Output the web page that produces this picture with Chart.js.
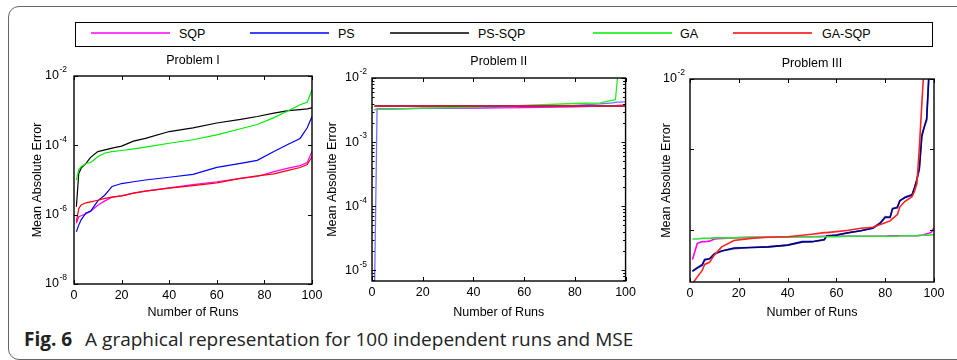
<!DOCTYPE html>
<html>
<head>
<meta charset="utf-8">
<script src="https://cdn.jsdelivr.net/npm/chart.js@4.4.1/dist/chart.umd.min.js"></script>
<style>
  html, body { margin: 0; padding: 0; background: #fff; }
  body { width: 957px; height: 360px; position: relative; overflow: hidden; font-family: "Liberation Sans", Arial, sans-serif; }
  .frame { position: absolute; left: 8px; top: 6px; width: 1000px; height: 352px; border: 1.3px solid #666; border-radius: 11px; }
  .legend { position: absolute; left: 75px; top: 22px; width: 856px; height: 23px; border: 1.5px solid #000; }
  .legend svg { position: absolute; left: 0; top: 0; }
  .legend .tx { position: absolute; top: 3.5px; font-size: 12.5px; color: #000; }
  .panel { position: absolute; top: 50px; height: 273px; }
  .caption { position: absolute; left: 24px; top: 329px; line-height: 20px; font-family: "Open Sans", "Noto Sans", sans-serif; font-size: 19px; color: #222; white-space: nowrap; }
  .caption b { font-weight: 700; margin-right: 8px; }
</style>
</head>
<body>
<div class="frame"></div>
<div class="legend" id="legend"><svg id="legendSvg" width="856" height="23"></svg></div>
<div class="panel" style="left:0px;width:330px"><canvas id="p1"></canvas></div>
<div class="panel" style="left:300px;width:340px"><canvas id="p2"></canvas></div>
<div class="panel" style="left:630px;width:327px"><canvas id="p3"></canvas></div>
<div class="caption"><b>Fig. 6</b> A graphical representation for 100 independent runs and MSE</div>
<script>
// series names and colours (MATLAB m, b, k, g, r)
const seriesNames = ['SQP', 'PS', 'PS-SQP', 'GA', 'GA-SQP'];
const seriesColors = ['#ff00ff', '#0000ff', '#000000', '#00ee00', '#ff0000'];

// Problem I
const p1Runs = [1, 2, 3, 5, 7, 10, 13, 16, 20, 25, 30, 40, 50, 60, 70, 77, 84, 90, 95, 98, 100];
const p1SQP = [5.6e-7, 8.7e-7, 9.3e-7, 1.05e-6, 1.26e-6, 1.86e-6, 2.5e-6, 3.2e-6, 3.5e-6, 4.2e-6, 4.8e-6, 5.9e-6, 7.4e-6, 8.9e-6, 1.12e-5, 1.26e-5, 1.74e-5, 2.2e-5, 2.6e-5, 3.2e-5, 6.6e-5];
const p1PS = [3.2e-7, 5.0e-7, 7.1e-7, 1.12e-6, 1.26e-6, 2.5e-6, 3.7e-6, 6.5e-6, 7.9e-6, 8.9e-6, 1.0e-5, 1.2e-5, 1.45e-5, 2.3e-5, 3.0e-5, 3.7e-5, 6.6e-5, 1.07e-4, 1.58e-4, 3.2e-4, 6.8e-4];
const p1PSSQP = [1.7e-6, 1.55e-5, 2.2e-5, 3.0e-5, 4.5e-5, 6.6e-5, 7.4e-5, 8.3e-5, 9.5e-5, 1.32e-4, 1.58e-4, 2.5e-4, 3.2e-4, 4.4e-4, 5.6e-4, 6.8e-4, 8.5e-4, 1.0e-3, 1.07e-3, 1.12e-3, 1.2e-3];
const p1GA = [1.0e-5, 2.0e-5, 2.4e-5, 3.0e-5, 3.2e-5, 4.7e-5, 6.0e-5, 6.6e-5, 7.1e-5, 7.9e-5, 8.9e-5, 1.15e-4, 1.45e-4, 2.0e-4, 3.0e-4, 4.0e-4, 6.3e-4, 1.0e-3, 1.48e-3, 1.74e-3, 4.0e-3];
const p1GASQP = [6.3e-7, 1.5e-6, 1.9e-6, 2.2e-6, 2.35e-6, 2.6e-6, 2.95e-6, 3.2e-6, 3.5e-6, 4.2e-6, 4.8e-6, 5.8e-6, 6.9e-6, 8.3e-6, 1.12e-5, 1.32e-5, 1.5e-5, 1.9e-5, 2.3e-5, 2.8e-5, 4.7e-5];
const p1YTicks = [1e-8, 1e-6, 1e-4, 1e-2];
const p1YLabels = ['10^-8', '10^-6', '10^-4', '10^-2'];

// Problem II
const p2Runs = [1, 2, 20, 40, 60, 80, 90, 95, 96, 97, 100];
const p2SQP = [3.2e-3, 3.3e-3, 3.35e-3, 3.4e-3, 3.45e-3, 3.55e-3, 3.65e-3, 3.7e-3, 3.7e-3, 3.75e-3, 3.8e-3];
const p2PS = [5e-6, 3.25e-3, 3.35e-3, 3.4e-3, 3.6e-3, 3.75e-3, 3.95e-3, 4.1e-3, 4.15e-3, 4.2e-3, 4.25e-3];
const p2PSSQP = [3.6e-3, 3.6e-3, 3.6e-3, 3.6e-3, 3.6e-3, 3.6e-3, 3.6e-3, 3.6e-3, 3.6e-3, 3.6e-3, 3.6e-3];
const p2GA = [3.2e-3, 3.25e-3, 3.4e-3, 3.5e-3, 3.75e-3, 4.0e-3, 4.1e-3, 4.5e-3, 4.6e-3, 1.2e-2, 1.2e-2];
const p2GASQP = [3.65e-3, 3.65e-3, 3.65e-3, 3.65e-3, 3.65e-3, 3.65e-3, 3.65e-3, 3.65e-3, 3.65e-3, 3.65e-3, 3.65e-3];
const p2YTicks = [1e-5, 1e-4, 1e-3, 1e-2];
const p2YLabels = ['10^-5', '10^-4', '10^-3', '10^-2'];

// Problem III
const p3Runs = [1, 3, 5, 6, 8, 10, 13, 18, 25, 32, 40, 46, 50, 55, 56, 60, 65, 70, 75, 78, 80, 82, 83, 85, 86, 88, 91, 92, 93, 94, 95, 96, 97, 98, 99, 100];
const p3SQP = [1.29e-3, 1.55e-3, 1.58e-3, 1.58e-3, 1.59e-3, 1.63e-3, 1.64e-3, 1.65e-3, 1.66e-3, 1.66e-3, 1.67e-3, 1.67e-3, 1.67e-3, 1.68e-3, 1.68e-3, 1.68e-3, 1.68e-3, 1.68e-3, 1.68e-3, 1.68e-3, 1.68e-3, 1.69e-3, 1.69e-3, 1.69e-3, 1.69e-3, 1.69e-3, 1.69e-3, 1.69e-3, 1.69e-3, 1.70e-3, 1.70e-3, 1.71e-3, 1.73e-3, 1.74e-3, 1.76e-3, 1.85e-3];
const p3PS = [1.13e-3, 1.17e-3, 1.21e-3, 1.29e-3, 1.30e-3, 1.38e-3, 1.42e-3, 1.47e-3, 1.48e-3, 1.49e-3, 1.52e-3, 1.58e-3, 1.58e-3, 1.62e-3, 1.68e-3, 1.70e-3, 1.75e-3, 1.79e-3, 1.84e-3, 1.95e-3, 2.08e-3, 2.08e-3, 2.30e-3, 2.32e-3, 2.52e-3, 2.60e-3, 2.68e-3, 2.90e-3, 3.2e-3, 3.6e-3, 5.2e-3, 5.8e-3, 6.3e-3, 1.1e-2, 1.5e-2, 2.0e-2];
const p3PSSQP = [1.13e-3, 1.18e-3, 1.22e-3, 1.28e-3, 1.30e-3, 1.37e-3, 1.42e-3, 1.46e-3, 1.48e-3, 1.49e-3, 1.52e-3, 1.57e-3, 1.58e-3, 1.61e-3, 1.69e-3, 1.71e-3, 1.75e-3, 1.79e-3, 1.85e-3, 1.96e-3, 2.10e-3, 2.09e-3, 2.28e-3, 2.35e-3, 2.50e-3, 2.62e-3, 2.70e-3, 2.92e-3, 3.2e-3, 3.7e-3, 5.3e-3, 5.8e-3, 6.4e-3, 1.1e-2, 1.5e-2, 2.0e-2];
const p3GA = [1.63e-3, 1.63e-3, 1.64e-3, 1.64e-3, 1.64e-3, 1.65e-3, 1.65e-3, 1.65e-3, 1.66e-3, 1.66e-3, 1.66e-3, 1.67e-3, 1.67e-3, 1.67e-3, 1.67e-3, 1.67e-3, 1.68e-3, 1.68e-3, 1.68e-3, 1.68e-3, 1.68e-3, 1.68e-3, 1.68e-3, 1.68e-3, 1.69e-3, 1.69e-3, 1.69e-3, 1.69e-3, 1.69e-3, 1.69e-3, 1.70e-3, 1.70e-3, 1.70e-3, 1.70e-3, 1.71e-3, 1.71e-3];
const p3GASQP = [0.98e-3, 1.06e-3, 1.14e-3, 1.22e-3, 1.25e-3, 1.36e-3, 1.49e-3, 1.60e-3, 1.64e-3, 1.66e-3, 1.67e-3, 1.70e-3, 1.72e-3, 1.75e-3, 1.75e-3, 1.77e-3, 1.80e-3, 1.84e-3, 1.86e-3, 1.92e-3, 1.96e-3, 2.0e-3, 2.05e-3, 2.15e-3, 2.34e-3, 2.49e-3, 2.63e-3, 2.8e-3, 3.06e-3, 4.6e-3, 7.5e-3, 1.2e-2, 2e-2, 2e-2, 2e-2, 2e-2];
const p3YTicks = [1.8e-3, 4.5e-3, 1e-2];
const p3YLabels = ['', '', '10^-2'];

const xTicks = [0, 20, 40, 60, 80, 100];

const FONT = '"Liberation Sans", Arial, sans-serif';

// legend (HTML/SVG, positions)
const legendLines = [15, 174, 314, 517, 657];
const legendTexts = [103, 262, 402, 604, 746];
const legend = document.getElementById('legend');
const svg = document.getElementById('legendSvg');
seriesNames.forEach((name, i) => {
    const ln = document.createElementNS('http://www.w3.org/2000/svg', 'line');
    ln.setAttribute('x1', legendLines[i]);
    ln.setAttribute('x2', legendLines[i] + 79);
    ln.setAttribute('y1', 10);
    ln.setAttribute('y2', 10);
    ln.setAttribute('stroke', seriesColors[i]);
    ln.setAttribute('stroke-width', 1.5);
    svg.appendChild(ln);
    const tx = document.createElement('div');
    tx.className = 'tx';
    tx.style.left = legendTexts[i] + 'px';
    tx.textContent = name;
    legend.appendChild(tx);
});

// MATLAB-like box, inward ticks, 10^n labels and panel title
const matlabAxes = {
    id: 'matlabAxes',
    afterDraw(chart, args, opts) {
        const { ctx, chartArea: a, scales: { x, y } } = chart;
        ctx.save();
        ctx.strokeStyle = '#000';
        ctx.lineWidth = 1.4;
        ctx.strokeRect(a.left, a.top, a.right - a.left, a.bottom - a.top);

        ctx.lineWidth = 1;
        ctx.beginPath();
        x.ticks.forEach(t => {
            const px = Math.round(x.getPixelForValue(t.value)) + 0.5;
            ctx.moveTo(px, a.bottom); ctx.lineTo(px, a.bottom - 4);
            ctx.moveTo(px, a.top); ctx.lineTo(px, a.top + 4);
        });
        y.ticks.forEach(t => {
            const py = Math.round(y.getPixelForValue(t.value)) + 0.5;
            ctx.moveTo(a.left, py); ctx.lineTo(a.left + 4, py);
            ctx.moveTo(a.right, py); ctx.lineTo(a.right - 4, py);
        });
        if (opts.minor) {
            for (let e = -6; e <= -3; e++) {
                for (let m = 2; m <= 9; m++) {
                    const v = m * Math.pow(10, e);
                    if (v < y.min || v > y.max) continue;
                    const py = Math.round(y.getPixelForValue(v)) + 0.5;
                    ctx.moveTo(a.left, py); ctx.lineTo(a.left + 2.5, py);
                    ctx.moveTo(a.right, py); ctx.lineTo(a.right - 2.5, py);
                }
            }
        }
        ctx.stroke();

        ctx.fillStyle = '#000';
        ctx.textBaseline = 'middle';
        ctx.textAlign = 'right';
        y.ticks.forEach((t, i) => {
            const label = opts.labels[i];
            if (!label) return;
            const [base, exp] = label.split('^');
            const py = y.getPixelForValue(t.value);
            const right = a.left - opts.labelGap;
            ctx.font = '8.5px ' + FONT;
            const ew = ctx.measureText(exp).width;
            ctx.fillText(exp, right, py - 6);
            ctx.font = '12.5px ' + FONT;
            ctx.fillText(base, right - ew - 0.5, py);
        });

        ctx.textAlign = 'center';
        ctx.font = '12.5px ' + FONT;
        ctx.fillText(opts.title, (a.left + a.right) / 2, a.top - opts.titleGap);
        ctx.restore();
    }
};

function makePanel(id, cfg) {
    const series = [cfg.sqp, cfg.ps, cfg.pssqp, cfg.ga, cfg.gasqp];
    const datasets = series.map((vals, i) => ({
        label: seriesNames[i],
        data: cfg.runs.map((r, k) => ({ x: r, y: vals[k] })),
        borderColor: (cfg.colors || seriesColors)[i],
        borderWidth: cfg.widths ? cfg.widths[i] : cfg.lineWidth,
        pointRadius: 0,
        tension: 0,
        fill: false,
        order: 5 - i
    }));
    new Chart(document.getElementById(id), {
        type: 'line',
        data: { datasets },
        options: {
            responsive: true,
            maintainAspectRatio: false,
            animation: false,
            layout: { padding: { top: cfg.padTop, right: cfg.padRight, bottom: 0, left: 0 } },
            plugins: {
                legend: { display: false },
                tooltip: { enabled: false },
                matlabAxes: { labels: cfg.yLabels, title: cfg.title, titleGap: cfg.titleGap, labelGap: cfg.labelGap, minor: cfg.minor }
            },
            scales: {
                x: {
                    type: 'linear',
                    min: 0, max: 100,
                    afterBuildTicks: s => { s.ticks = xTicks.map(v => ({ value: v })); },
                    afterFit: s => { s.height = cfg.xHeight; },
                    grid: { display: false, drawTicks: false },
                    border: { display: false },
                    ticks: { color: '#000', font: { family: FONT, size: 12.5 }, padding: 4, maxRotation: 0 },
                    title: { display: true, text: 'Number of Runs', color: '#000', font: { family: FONT, size: 12.5 }, padding: { top: 0, bottom: 2.5 } }
                },
                y: {
                    type: 'logarithmic',
                    min: cfg.yMin, max: cfg.yMax,
                    afterBuildTicks: s => { s.ticks = cfg.yTicks.map(v => ({ value: v })); },
                    afterFit: s => { s.width = cfg.yWidth; },
                    grid: { display: false, drawTicks: false },
                    border: { display: false },
                    ticks: { display: false },
                    title: { display: true, text: 'Mean Absolute Error', color: '#000', font: { family: FONT, size: 12.5 }, padding: { top: cfg.yTitlePad, bottom: 0 } }
                }
            }
        },
        plugins: [matlabAxes]
    });
}

makePanel('p1', {
    runs: p1Runs, sqp: p1SQP, ps: p1PS, pssqp: p1PSSQP, ga: p1GA, gasqp: p1GASQP,
    yMin: 1e-8, yMax: 1e-2, yTicks: p1YTicks, yLabels: p1YLabels,
    title: 'Problem I', titleGap: 15, labelGap: 7, lineWidth: 1.2,
    padTop: 26, padRight: 18, xHeight: 39, yWidth: 74, yTitlePad: 30.5
});
makePanel('p2', {
    runs: p2Runs, sqp: p2SQP, ps: p2PS, pssqp: p2PSSQP, ga: p2GA, gasqp: p2GASQP,
    yMin: 6.8e-6, yMax: 1e-2, yTicks: p2YTicks, yLabels: p2YLabels,
    title: 'Problem II', titleGap: 16, labelGap: 5, lineWidth: 1.3, minor: true,
    colors: ['#ff00ff', '#6f6fff', '#000000', '#22ee22', '#c8203c'],
    widths: [1.3, 1.3, 1.3, 1.3, 2],
    padTop: 28, padRight: 12, xHeight: 42, yWidth: 72, yTitlePad: 25.5
});
makePanel('p3', {
    runs: p3Runs, sqp: p3SQP, ps: p3PS, pssqp: p3PSSQP, ga: p3GA, gasqp: p3GASQP,
    yMin: 1e-3, yMax: 1e-2, yTicks: p3YTicks, yLabels: p3YLabels,
    title: 'Problem III', titleGap: 15, labelGap: 5, lineWidth: 1.6,
    colors: ['#ff00ff', '#0000ff', 'rgba(0,0,40,0.65)', '#33dd33', '#ff2222'],
    padTop: 29, padRight: 23, xHeight: 41, yWidth: 60, yTitlePad: 29.5
});
</script>
</body>
</html>
